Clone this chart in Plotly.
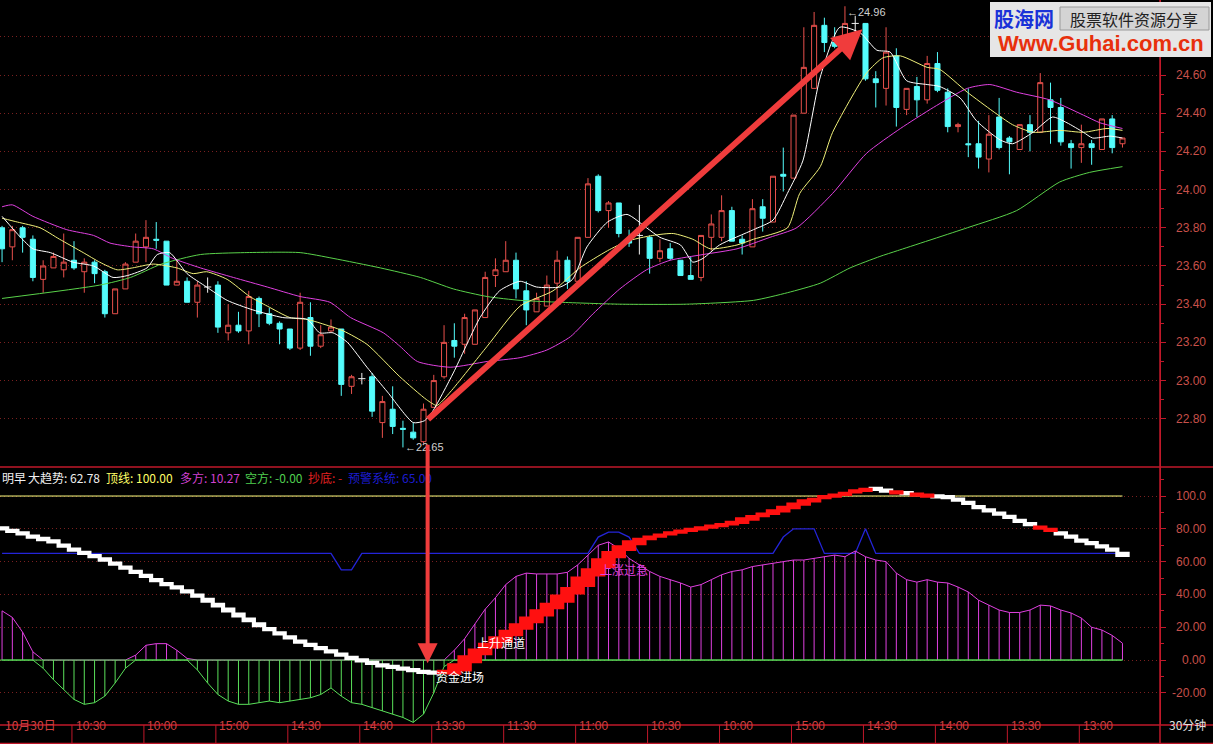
import plotly.graph_objects as go

# ---------------- data ----------------
idx = list(range(110))
opens = [23.80,23.70,23.80,23.74,23.53,23.59,23.58,23.63,23.57,23.62,
         23.57,23.35,23.48,23.62,23.70,23.74,23.73,23.50,23.52,23.41,
         23.49,23.50,23.25,23.29,23.26,23.43,23.35,23.30,23.27,23.17,
         23.33,23.18,23.26,23.27,22.97,23.01,23.02,22.78,22.85,22.75,
         22.73,22.68,22.86,23.02,23.21,23.19,23.19,23.33,23.55,23.57,
         23.63,23.47,23.36,23.39,23.51,23.63,23.52,23.75,24.07,23.89,
         23.93,23.74,23.76,23.75,23.64,23.69,23.63,23.55,23.54,23.75,
         23.75,23.89,23.74,23.70,23.91,23.83,24.08,24.06,24.40,24.53,
         24.86,24.77,24.76,24.87,24.87,24.58,24.53,24.70,24.42,24.54,
         24.47,24.66,24.51,24.33,24.24,24.24,24.16,24.38,24.27,24.21,
         24.34,24.30,24.47,24.43,24.24,24.22,24.24,24.21,24.37,24.24]
highs = [23.81,23.81,23.81,23.76,23.63,23.67,23.77,23.73,23.64,23.63,
         23.58,23.48,23.62,23.77,23.84,23.83,23.73,23.63,23.54,23.52,
         23.54,23.52,23.40,23.36,23.47,23.44,23.38,23.31,23.27,23.46,
         23.41,23.29,23.32,23.27,23.03,23.04,23.04,22.92,22.97,22.79,
         22.78,22.88,23.03,23.29,23.30,23.35,23.37,23.57,23.64,23.73,
         23.67,23.52,23.46,23.55,23.68,23.65,23.75,24.06,24.08,23.94,
         23.93,23.79,23.92,23.76,23.74,23.72,23.63,23.65,23.76,23.87,
         23.97,23.91,23.76,23.95,23.95,24.07,24.22,24.39,24.85,24.93,
         24.90,24.85,24.96,24.91,24.87,24.62,24.85,24.74,24.53,24.59,
         24.70,24.72,24.53,24.35,24.53,24.36,24.39,24.48,24.28,24.34,
         24.39,24.61,24.56,24.48,24.26,24.34,24.26,24.37,24.39,24.27]
lows = [23.62,23.63,23.67,23.52,23.46,23.59,23.54,23.58,23.46,23.51,
        23.33,23.35,23.48,23.62,23.62,23.69,23.50,23.50,23.41,23.33,
        23.46,23.25,23.21,23.25,23.19,23.28,23.29,23.19,23.16,23.16,
        23.13,23.17,23.25,22.92,22.93,22.98,22.81,22.70,22.72,22.65,
        22.69,22.67,22.86,23.01,23.12,23.14,23.19,23.33,23.49,23.57,
        23.43,23.29,23.36,23.39,23.39,23.48,23.52,23.75,23.88,23.80,
        23.75,23.70,23.66,23.56,23.62,23.63,23.55,23.53,23.52,23.68,
        23.73,23.73,23.66,23.70,23.78,23.83,23.99,24.06,24.40,24.53,
        24.72,24.74,24.76,24.82,24.57,24.43,24.44,24.33,24.39,24.38,
        24.45,24.51,24.30,24.30,24.17,24.11,24.09,24.21,24.08,24.21,
        24.20,24.30,24.24,24.23,24.11,24.14,24.13,24.21,24.19,24.22]
closes = [23.69,23.79,23.75,23.54,23.60,23.65,23.62,23.59,23.62,23.56,
          23.35,23.48,23.61,23.73,23.75,23.735,23.50,23.52,23.41,23.50,
          23.49,23.28,23.29,23.26,23.44,23.35,23.30,23.27,23.17,23.41,
          23.18,23.24,23.28,22.98,23.02,23.01,22.84,22.89,22.76,22.745,
          22.70,22.85,23.00,23.20,23.18,23.33,23.37,23.54,23.58,23.63,
          23.48,23.37,23.43,23.50,23.63,23.52,23.75,24.03,23.89,23.93,
          23.77,23.72,23.76,23.64,23.68,23.64,23.55,23.53,23.76,23.82,
          23.89,23.73,23.72,23.90,23.85,24.07,24.07,24.39,24.64,24.86,
          24.77,24.75,24.87,24.87,24.58,24.56,24.72,24.43,24.53,24.47,
          24.66,24.52,24.33,24.34,24.235,24.17,24.29,24.22,24.25,24.34,
          24.30,24.56,24.43,24.25,24.22,24.24,24.22,24.37,24.22,24.27]

# moving averages (candle index, price)
ma5_x = [0,1.8,3.0,4.7,6.9,8.9,10.8,12.2,14.1,15.1,16.3,18.0,19.9,21.9,24.4,27.3,29.7,30.9,32.2,33.6,
         35.5,37.5,40.0,41.1,41.9,43.9,46.5,48.4,50.4,52.0,54.3,55.5,56.9,58.9,60.8,62.7,64.0,66.0,67.2,68.2,
         69.8,73.1,75.0,76.4,77.9,79.6,81.5,83.5,85.1,86.4,88.0,90.0,91.2,93.2,94.8,97.1,98.3,100.3,102.2,103.6,
         105.2,106.1,107.8,109]
ma5_y = [23.86,23.75,23.69,23.67,23.62,23.60,23.54,23.55,23.59,23.66,23.67,23.56,23.49,23.42,23.37,23.33,23.32,23.25,23.25,23.20,
         23.07,22.94,22.78,22.79,22.84,23.04,23.33,23.47,23.52,23.49,23.49,23.53,23.70,23.83,23.87,23.80,23.75,23.71,23.62,23.64,
         23.71,23.79,23.84,23.98,24.15,24.59,24.85,24.82,24.73,24.72,24.57,24.55,24.54,24.48,24.36,24.26,24.24,24.30,24.38,24.35,
         24.30,24.27,24.28,24.27]
ma10_x = [0,1.5,3.7,5.6,7.9,9.5,11.2,12.7,14.7,17.0,18.6,19.9,21.9,24.1,25.8,28.0,29.7,31.6,33.2,35.5,
          38.7,41.3,42.3,43.6,47.2,50.4,53.6,56.2,58.9,60.8,63.3,65.3,67.2,68.9,71.5,73.1,76.4,77.6,79.6,80.8,
          84.1,85.7,87.4,90.0,91.2,93.9,96.4,98.3,100.3,102.9,105.2,107.5,109]
ma10_y = [23.85,23.83,23.80,23.74,23.67,23.62,23.58,23.59,23.61,23.59,23.56,23.57,23.53,23.44,23.39,23.33,23.32,23.29,23.26,23.19,
          23.02,22.90,22.87,22.94,23.18,23.39,23.47,23.59,23.68,23.73,23.76,23.77,23.74,23.69,23.71,23.74,23.80,23.98,24.12,24.30,
          24.61,24.69,24.70,24.64,24.63,24.51,24.41,24.34,24.30,24.31,24.30,24.32,24.31]
ma20_x = [0,1,3,6.3,8.9,10.5,12.7,14.7,16.6,19.3,22.5,25.8,29,31.9,33.9,37.1,38.7,40.4,43.6,47.2,
          50.4,53,55.3,57.5,60.1,62.7,65,68.2,71.5,74.7,77.3,80.8,84.1,87.4,90.6,93.9,96.1,98.7,101.9,105.2,
          106.8,109]
ma20_y = [23.91,23.92,23.86,23.79,23.76,23.72,23.70,23.69,23.64,23.59,23.54,23.49,23.44,23.41,23.33,23.25,23.18,23.10,23.07,23.10,
          23.12,23.16,23.23,23.35,23.48,23.58,23.63,23.66,23.69,23.75,23.80,23.98,24.19,24.32,24.43,24.53,24.55,24.51,24.47,24.39,
          24.35,24.32]
ma60_x = [0,9.5,12.5,15.5,19.3,23.6,29,32.2,36.8,40.7,43.9,47.2,50.4,54.3,60.1,66.6,73.1,76.4,79.6,82.5,
          85.4,87.1,93.9,98.7,102.9,105.8,109]
ma60_y = [23.43,23.50,23.54,23.61,23.66,23.67,23.67,23.64,23.59,23.54,23.48,23.44,23.42,23.41,23.40,23.40,23.42,23.46,23.51,23.59,
          23.65,23.68,23.80,23.89,24.04,24.09,24.12]

# lower indicator panel
top_line = 100.0
trend = [79,77.5,76,74,72.5,71,68.5,66,64,62,60,57.5,55,52.5,50,47.5,45,43,40.5,38,
         35,32,29,26,23,20,17.5,15,12.5,10,8,6,4,2,0,-1.5,-3,-4.5,-5.5,-6.5,
         -7.5,-8.5,-9,-7,-2,3,7,10.5,14.5,18.5,22.5,26.5,31,35,40,44.5,51,56,62,66.5,
         70,73,74.5,76,77,78,79,80,81,82,83,85,87,88.5,90,92,94,96,98,99,
         100,101.5,102.5,103.5,104,103,102,101,100.5,99.5,99,98.5,98,96.5,94.5,92,90,88,86,83.5,
         81.5,79.5,78,76,74,71.5,70,68,66,62.78]
trend_red_extra = [87, 89, 90, 101, 102]
hist = [30,26,17,5,-5,-12,-18,-24,-27,-26,-22,-14,-5,3,9,10,10,6,1,-6,
        -14,-21,-25,-27,-27,-26,-25,-26,-25,-24,-23,-21,-17,-22,-26,-27,-29,-31,-33,-35,
        -38,-33,-20,-4,6,13,22,31,38,46,51,53,52.5,52.5,52.5,53.5,58,64,70,72,
        68,62,58,54,51,49,47,44.5,46,49,52,54,55,57,58,59,60,61,61,62,
        63,64,63,66.5,63,61,60,53,49,47.5,49,47.5,47,44.5,41.5,36.5,33.5,30.5,29,29,
        30.5,33.5,33,30.5,28.7,25.6,20,18.3,15,10.27]
warn = [65]*33 + [55,55] + [65]*23 + [75,78,78,75] + [65]*14 + [75,80,80,80,65,65,65,65,80,65] + [65]*24
kong = 0.0

price_ticks = [22.80,23.00,23.20,23.40,23.60,23.80,24.00,24.20,24.40,24.60,24.80]
price_labels_shown = [22.80,23.00,23.20,23.40,23.60,23.80,24.00,24.20,24.40,24.60]  # 24.80 hidden under watermark
ind_ticks = [100,80,60,40,20,0,-20]
ind_tick_text = ["100.0","80.00","60.00","40.00","20.00","0.00","-20.00"]
date_label = "10月30日"
time_labels = ["10:30","10:00","15:00","14:30","14:00","13:30","11:30","11:00",
               "10:30","10:00","15:00","14:30","14:00","13:30","13:00"]

# ---------------- figure ----------------
W, H = 1213, 744
PX_R = 1160 / W
TOP_Y0 = 1 - 467 / H
BOT_Y0 = 1 - 725 / H
RED = "#e8504c"
CYAN = "#54fcfc"
FRAME = "#c0182a"
GRID = "#7a2020"
LBL = "#c8504a"
DOTS = "1px,3px"

fig = go.Figure()

up_i = [i for i in idx if closes[i] > opens[i]]
dn_i = [i for i in idx if closes[i] < opens[i]]
dj_i = [i for i in idx if closes[i] == opens[i]]
g = lambda lst, ids: [lst[i] for i in ids]

fig.add_trace(go.Candlestick(
    x=up_i, open=g(opens, up_i), high=g(highs, up_i), low=g(lows, up_i), close=g(closes, up_i),
    increasing=dict(line=dict(color=RED, width=1), fillcolor="#000000"),
    decreasing=dict(line=dict(color=RED, width=1), fillcolor="#000000"),
    hoverinfo="skip", xaxis="x", yaxis="y"))
fig.add_trace(go.Candlestick(
    x=dn_i, open=g(opens, dn_i), high=g(highs, dn_i), low=g(lows, dn_i), close=g(closes, dn_i),
    increasing=dict(line=dict(color=CYAN, width=1), fillcolor=CYAN),
    decreasing=dict(line=dict(color=CYAN, width=1), fillcolor=CYAN),
    hoverinfo="skip", xaxis="x", yaxis="y"))
# doji crosses
dx, dy = [], []
for i in dj_i:
    dx += [i, i, None, i - 0.35, i + 0.35, None]
    dy += [lows[i], highs[i], None, opens[i], opens[i], None]
fig.add_trace(go.Scatter(x=dx, y=dy, mode="lines", line=dict(color="#f0f0f0", width=1),
                         hoverinfo="skip", xaxis="x", yaxis="y"))

for xs, ys, col in [(ma60_x, ma60_y, "#5ad24a"), (ma20_x, ma20_y, "#e040e0"),
                    (ma10_x, ma10_y, "#f0f07a"), (ma5_x, ma5_y, "#ffffff")]:
    fig.add_trace(go.Scatter(x=xs, y=ys, mode="lines", line=dict(color=col, width=1, shape="spline", smoothing=0.6),
                             hoverinfo="skip", xaxis="x", yaxis="y"))

# ----- lower panel -----
fig.add_trace(go.Scatter(x=[idx[0] - 0.2, idx[-1]], y=[top_line, top_line], mode="lines",
                         line=dict(color="#ffff80", width=1), hoverinfo="skip", xaxis="x2", yaxis="y2"))
fig.add_trace(go.Scatter(x=idx, y=warn, mode="lines", line=dict(color="#2424d8", width=1.3),
                         hoverinfo="skip", xaxis="x2", yaxis="y2"))
for sign, col in [(1, "#e040e0"), (-1, "#5ae05a")]:
    sx, sy = [], []
    for i, v in zip(idx, hist):
        if v * sign > 0:
            sx += [i, i, None]
            sy += [0, v, None]
    fig.add_trace(go.Scatter(x=sx, y=sy, mode="lines", line=dict(color=col, width=1),
                             hoverinfo="skip", xaxis="x2", yaxis="y2"))
    env = [max(v, 0) if sign > 0 else min(v, 0) for v in hist]
    fig.add_trace(go.Scatter(x=idx, y=env, mode="lines", line=dict(color=col, width=1),
                             hoverinfo="skip", xaxis="x2", yaxis="y2"))
fig.add_trace(go.Scatter(x=[idx[0] - 0.2, idx[-1]], y=[kong, kong], mode="lines",
                         line=dict(color="#5ae05a", width=1), hoverinfo="skip", xaxis="x2", yaxis="y2"))

# trend band
band = {"red": ([], []), "white": ([], [])}
for i in idx:
    rising = i > 0 and trend[i] > trend[i - 1]
    is_red = rising or i in trend_red_extra
    lag = 2 if rising else 1
    j = max(i - lag, 0)
    lo, hi = min(trend[i], trend[j]), max(trend[i], trend[j])
    if hi - lo < 2.6:
        hi = lo + 2.6
    xs, ys = band["red" if is_red else "white"]
    xs += [i - 0.7, i + 0.7, i + 0.7, i - 0.7, i - 0.7, None]
    ys += [lo, lo, hi, hi, lo, None]
for key, col in [("white", "#ffffff"), ("red", "#ff1010")]:
    xs, ys = band[key]
    fig.add_trace(go.Scatter(x=xs, y=ys, mode="lines", fill="toself", fillcolor=col,
                             line=dict(width=0, color=col), hoverinfo="skip", xaxis="x2", yaxis="y2"))

# ---------------- layout ----------------
xr = [-0.2, 112.65]
fig.update_layout(
    width=W, height=H, margin=dict(l=0, r=0, t=0, b=0),
    paper_bgcolor="#000000", plot_bgcolor="#000000", showlegend=False, hovermode=False,
    xaxis=dict(domain=[0, PX_R], range=xr, visible=False, rangeslider=dict(visible=False)),
    yaxis=dict(domain=[TOP_Y0, 1], range=[22.5475, 24.9927], side="right",
               tickvals=price_ticks, showticklabels=False, ticks="outside", ticklen=5, tickcolor=FRAME,
               minor=dict(tickvals=[v + 0.1 for v in price_ticks], ticks="outside", ticklen=3, tickcolor=FRAME, showgrid=False),
               showgrid=True, gridcolor=GRID, griddash=DOTS, gridwidth=1,
               showline=True, linecolor=FRAME, zeroline=False),
    xaxis2=dict(domain=[0, PX_R], range=xr, visible=False, anchor="y2"),
    yaxis2=dict(domain=[BOT_Y0, TOP_Y0], range=[-39.6, 117.7], side="right", anchor="x2",
                tickvals=ind_ticks, showticklabels=False, ticks="outside", ticklen=5, tickcolor=FRAME,
                minor=dict(tickvals=[v + 10 for v in ind_ticks], ticks="outside", ticklen=3, tickcolor=FRAME, showgrid=False),
                showgrid=True, gridcolor=GRID, griddash=DOTS, gridwidth=1,
                showline=True, linecolor=FRAME, zeroline=False),
)

shapes = []
for yy in [TOP_Y0, BOT_Y0, 0.5 / H]:
    shapes.append(dict(type="line", xref="paper", yref="paper", x0=0, x1=1, y0=yy, y1=yy,
                       line=dict(color=FRAME, width=1.5)))
shapes.append(dict(type="line", xref="paper", yref="paper", x0=PX_R, x1=PX_R, y0=0, y1=1,
                   line=dict(color=FRAME, width=1.5)))
# time separators
for k in range(1, len(time_labels) + 1):
    sx = 7 * k - 0.2
    shapes.append(dict(type="line", xref="x2", yref="paper", x0=sx, x1=sx, y0=0, y1=BOT_Y0,
                       line=dict(color=FRAME, width=1)))
# watermark
shapes.append(dict(type="rect", xref="paper", yref="paper", x0=990 / W, x1=1211 / W,
                   y0=1 - 57 / H, y1=1 - 2 / H, fillcolor="#e6e6e6", line=dict(width=0), layer="above"))
shapes.append(dict(type="rect", xref="paper", yref="paper", x0=1060 / W, x1=1209 / W,
                   y0=1 - 30 / H, y1=1 - 7 / H, fillcolor="#d4d4d4", line=dict(color="#9a9a9a", width=1), layer="above"))
fig.update_layout(shapes=shapes)

ann = []
CJK = "Noto Sans CJK SC"
for v in price_labels_shown:
    ann.append(dict(x=1208 / W, xref="paper", y=v, yref="y", text=f"{v:.2f}", showarrow=False,
                    xanchor="right", font=dict(family="Liberation Sans", size=12, color=LBL)))
for v, t in zip(ind_ticks, ind_tick_text):
    ann.append(dict(x=1208 / W, xref="paper", y=v, yref="y2", text=t, showarrow=False,
                    xanchor="right", font=dict(family="Liberation Sans", size=12, color=LBL)))
# title row of lower panel
ty = 1 - 477 / H
segs = [(0, "明早", "#f0f0f0"),
        (26, f"大趋势: {trend[-1]:.2f}", "#f0f0f0"),
        (104, f"顶线: {top_line:.2f}", "#ffff66"),
        (178, f"多方: {hist[-1]:.2f}", "#d040d0"),
        (243, f"空方: -{kong:.2f}", "#50d050"),
        (306, "抄底: -", "#e02020"),
        (346, f"预警系统: {warn[-1]:.2f}", "#1c1cd0")]
for px, t, c in segs:
    ann.append(dict(x=px / W, xref="paper", y=ty, yref="paper", text=t, showarrow=False,
                    xanchor="left", font=dict(family=CJK, size=12, color=c)))
# bottom time labels
by = 1 - 735 / H
ann.append(dict(x=0.1, xref="x2", y=by, yref="paper", text=date_label, showarrow=False, xanchor="left",
                font=dict(family=CJK, size=12, color="#d04040")))
for k, t in enumerate(time_labels, start=1):
    ann.append(dict(x=7 * k - 0.05, xref="x2", y=by, yref="paper", text=t, showarrow=False, xanchor="left",
                    font=dict(family="Liberation Sans", size=12, color="#d04040")))
ann.append(dict(x=1187 / W, xref="paper", y=by, yref="paper", text="30分钟", showarrow=False,
                xanchor="center", font=dict(family=CJK, size=12, color="#e0e0e0")))
# extreme markers
lo_i = lows.index(min(lows))
hi_i = highs.index(max(highs))
ann.append(dict(x=lo_i, y=min(lows), xref="x", yref="y", text=f"←{min(lows):.2f}", showarrow=False,
                xanchor="left", yanchor="middle", font=dict(family="Liberation Sans", size=11, color="#d0d0d0")))
ann.append(dict(x=hi_i, y=max(highs) - 0.03, xref="x", yref="y", text=f"←{max(highs):.2f}", showarrow=False,
                xanchor="left", yanchor="middle", font=dict(family="Liberation Sans", size=11, color="#d0d0d0")))
# lower panel signal labels
ann.append(dict(x=lo_i + 3, y=trend[lo_i + 3] - 1, xref="x2", yref="y2", text="资金进场", showarrow=False,
                xanchor="left", font=dict(family=CJK, size=12, color="#ffffff")))
ann.append(dict(x=lo_i + 7, y=trend[lo_i + 7] + 3.5, xref="x2", yref="y2", text="上升通道", showarrow=False,
                xanchor="left", font=dict(family=CJK, size=12, color="#ffffff")))
ann.append(dict(x=lo_i + 19, y=hist[lo_i + 19] - 15, xref="x2", yref="y2", text="上涨过急", showarrow=False,
                xanchor="left", font=dict(family=CJK, size=12, color="#e040e0")))
# big arrows
ann.append(dict(x=hi_i + 1.7, y=max(highs) - 0.12, xref="x", yref="y",
                ax=lo_i + 2.3, ay=min(lows) + 0.14, axref="x", ayref="y", text="",
                showarrow=True, arrowhead=2, arrowsize=1, arrowwidth=6, arrowcolor="#f03c3c"))
ann.append(dict(x=lo_i + 2.4, y=trend[lo_i + 3] + 7, xref="x2", yref="y2", ax=0, ay=-220, text="",
                showarrow=True, arrowhead=2, arrowsize=1, arrowwidth=4, arrowcolor="#f03c3c"))
# watermark texts
ann.append(dict(x=1024 / W, y=1 - 19 / H, xref="paper", yref="paper", text="<b>股海网</b>", showarrow=False,
                xanchor="center", yanchor="middle", font=dict(family=CJK, size=20, color="#1a32d8")))
ann.append(dict(x=1134 / W, y=1 - 19 / H, xref="paper", yref="paper", text="股票软件资源分享", showarrow=False,
                xanchor="center", yanchor="middle", font=dict(family=CJK, size=16, color="#222222")))
ann.append(dict(x=1101 / W, y=1 - 44 / H, xref="paper", yref="paper", text="<b>Www.Guhai.com.cn</b>", showarrow=False,
                xanchor="center", yanchor="middle", font=dict(family="Liberation Sans", size=22, color="#e8300c")))
fig.update_layout(annotations=ann)

fig.write_html("out.html", config={"displayModeBar": False},
               post_script="document.body.style.margin='0';document.body.style.padding='0';document.body.style.overflow='hidden';")
